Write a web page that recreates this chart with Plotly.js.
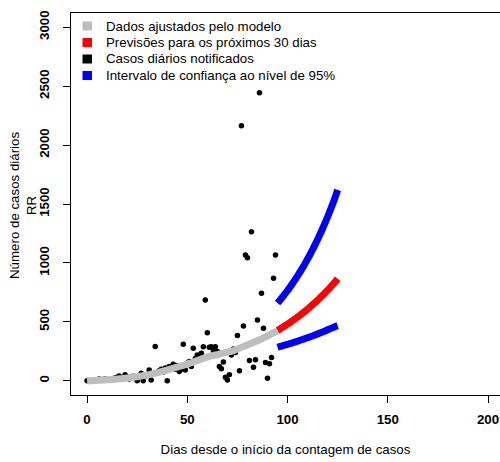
<!DOCTYPE html>
<html><head><meta charset="utf-8">
<script src="https://cdn.plot.ly/plotly-3.0.1.min.js"></script>
<style>html,body{margin:0;padding:0;background:#fff;}</style>
</head><body>
<div id="chart" style="width:500px;height:462px;"></div>
<script>
// Observed daily cases (black points)
const obsDays = [0,1,2,3,4,5,6,7,8,9,10,11,12,13,14,15,16,17,18,19,20,21,22,23,24,25,26,27,28,29,30,31,32,33,34,35,36,37,38,39,40,41,42,43,44,45,46,47,48,49,50,51,52,53,54,55,56,57,58,59,60,61,62,63,64,65,66,67,68,69,70,71,72,73,74,75,76,77,78,79,80,81,82,83,84,85,86,87,88,89,90,91,92,93,94];
const obsCases = [0,3,0,2,5,10,15,8,12,15,5,8,10,20,25,30,42,22,30,51,30,15,35,40,30,0,30,65,0,40,51,93,8,60,291,70,85,99,75,110,0,121,100,140,99,130,79,99,311,93,150,164,121,277,190,220,200,234,290,686,409,285,290,254,290,248,121,102,160,31,8,51,220,271,240,384,85,2164,466,1068,1045,172,1265,115,178,517,2443,743,446,155,23,144,198,870,1068];

// Model-fitted values (gray)
const fitDays = [0,1,2,3,4,5,6,7,8,9,10,11,12,13,14,15,16,17,18,19,20,21,22,23,24,25,26,27,28,29,30,31,32,33,34,35,36,37,38,39,40,41,42,43,44,45,46,47,48,49,50,51,52,53,54,55,56,57,58,59,60,61,62,63,64,65,66,67,68,69,70,71,72,73,74,75,76,77,78,79,80,81,82,83,84,85,86,87,88,89,90,91,92,93,94,95];
const fitCases = [0,1,1,2,3,4,5,6,7,8,9,10,11,12,14,15,17,18,20,22,24,26,28,30,33,35,38,41,44,47,50,53,57,61,65,69,73,78,82,87,92,97,102,107,112,117,122,127,132,137,142,148,154,160,166,172,178,185,191,197,202,207,211,215,219,223,227,231,235,239,243,247,251,256,263,270,277,284,291,298,305,312,319,326,333,340,348,356,364,372,380,389,398,407,416,425];

// 30-day forecast (red) and 95% confidence interval (blue)
const fcDays = [95,96,97,98,99,100,101,102,103,104,105,106,107,108,109,110,111,112,113,114,115,116,117,118,119,120,121,122,123,124,125];
const fcCases = [428,438,449,459,470,481,492,504,516,528,541,554,567,581,595,609,623,638,653,668,684,700,717,734,751,769,787,806,825,845,866];
const ciUpper = [660,680,701,722,744,766,790,814,838,864,890,917,945,973,1003,1033,1064,1097,1130,1164,1199,1236,1273,1312,1351,1392,1434,1478,1522,1569,1620];
const ciLower = [285,290,295,300,305,310,315,320,326,331,337,342,348,354,360,366,372,378,385,391,398,405,411,418,425,433,440,447,455,462,468];

// Axis ticks and texts
const xTicks = [0,50,100,150,200];
const yTicks = [0,500,1000,1500,2000,2500,3000];
const xTitle = 'Dias desde o início da contagem de casos';
const yTitle = 'Número de casos diários<br>RR';
const legendLabels = ['Dados ajustados pelo modelo','Previsões para os próximos 30 dias','Casos diários notificados','Intervalo de confiança ao nível de 95%'];
const legendColors = ['#BEBEBE','#FF0000','#000000','#0000FF'];

const FONT = 'Liberation Sans, Arial, Helvetica, sans-serif';
const W = 500, H = 462;
const L = 71, T = 13, B = 395;
const pxX = p => (p - L) / (W - L);
const pxY = p => (B - p) / (B - T);

const pts = (x, y, color, size) => ({
  x: x, y: y, type: 'scatter', mode: 'markers', showlegend: false, hoverinfo: 'skip',
  marker: {color: color, size: size, line: {width: 0}}
});
const band = (x, y, color) => ({
  x: x, y: y, type: 'scatter', mode: 'lines', showlegend: false, hoverinfo: 'skip',
  line: {color: color, width: 7, shape: 'spline', smoothing: 0.6}
});

const traces = [
  pts(obsDays, obsCases, legendColors[2], 5.5),
  band(fitDays, fitCases, legendColors[0]),
  band(fcDays, ciUpper, legendColors[3]),
  band(fcDays, ciLower, legendColors[3]),
  band(fcDays, fcCases, legendColors[1])
];

const rowY = [26, 42.5, 59, 75.5];
const annotations = legendLabels.map((t, i) => ({
  text: t, xref: 'paper', yref: 'paper', x: pxX(104), y: pxY(rowY[i]),
  xanchor: 'left', yanchor: 'middle', showarrow: false,
  font: {family: FONT, size: 13.3, color: '#000'}
}));
// y-axis title (two lines, rotated), placed like the reference
annotations.push({
  text: yTitle, xref: 'paper', yref: 'paper', x: pxX(23), y: pxY(206),
  xanchor: 'center', yanchor: 'middle', textangle: -90, showarrow: false,
  font: {family: FONT, size: 13.3, color: '#000'}
});
const shapes = legendColors.map((c, i) => ({
  type: 'rect', xref: 'paper', yref: 'paper',
  x0: pxX(82.5), x1: pxX(92), y0: pxY(rowY[i] + 4.5), y1: pxY(rowY[i] - 4.5),
  fillcolor: c, line: {width: 0}
}));

const axisCommon = {
  showgrid: false, zeroline: false, showline: true, linecolor: '#000', linewidth: 1,
  ticks: 'outside', ticklen: 7, tickwidth: 1, tickcolor: '#000',
  tickfont: {family: FONT, size: 13.3, color: '#000', weight: 'bold'}
};

const layout = {
  width: W, height: H,
  margin: {l: L, r: 0, t: T, b: H - B, pad: 0},
  paper_bgcolor: '#fff', plot_bgcolor: '#fff',
  showlegend: false,
  xaxis: Object.assign({}, axisCommon, {
    range: [-8, -8 + (W - L) / 2.005], tickvals: xTicks, ticktext: xTicks.map(String),
    mirror: true, ticklabelstandoff: 5,
    title: {text: xTitle, font: {family: FONT, size: 13.3, color: '#000'}, standoff: 18}
  }),
  yaxis: Object.assign({}, axisCommon, {
    range: [-120, 3120], tickvals: yTicks, ticktext: yTicks.map(String),
    tickangle: -90, ticklabelstandoff: 9
  }),
  annotations: annotations,
  shapes: shapes
};

Plotly.newPlot('chart', traces, layout, {staticPlot: true, displayModeBar: false});
</script>
</body></html>
